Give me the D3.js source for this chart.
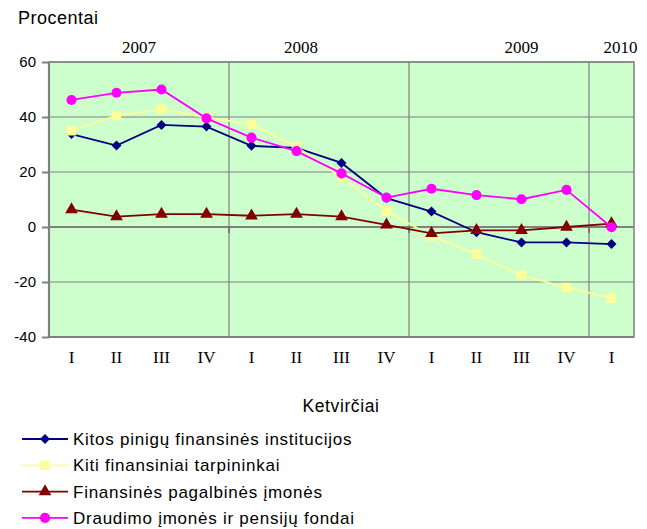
<!DOCTYPE html>
<html><head><meta charset="utf-8">
<script src="https://cdn.jsdelivr.net/npm/d3@7"></script>
<style>body{margin:0;background:#fff}</style>
</head><body>
<svg id="c" width="647" height="529"></svg>
<script>
const quarters = ["I","II","III","IV","I","II","III","IV","I","II","III","IV","I"];
const years = [{label:"2007", from:0, to:4, pos:1.5},{label:"2008", from:4, to:8, pos:5.1},{label:"2009", from:8, to:12, pos:10},{label:"2010", from:12, to:13, pos:12.2}];
const yTicks = [-40,-20,0,20,40,60];
const kitosPinigu = [33.8,29.6,37.1,36.5,29.5,28.8,23.3,10.5,5.6,-1.9,-5.6,-5.6,-6.2];
const kitiFinansiniai = [35,40.5,42.8,39.9,37.3,29.2,18,5.8,-3.3,-9.9,-17.6,-22,-25.9];
const pagalbines = [6.3,3.8,4.7,4.7,4.1,4.7,3.8,0.8,-2.3,-1.2,-1.2,0,1.2];
const draudimo = [46.2,48.8,50,39.5,32.5,27.6,19.5,10.7,13.9,11.6,10.1,13.5,-0.1];
const seriesNames = ["Kitos pinigų finansinės institucijos","Kiti finansiniai tarpininkai","Finansinės pagalbinės įmonės","Draudimo įmonės ir pensijų fondai"];

const series = [
  {name:seriesNames[0], values:kitosPinigu, color:"#000080", sym:d3.symbolSquare, size:50, rot:45},
  {name:seriesNames[1], values:kitiFinansiniai, color:"#FFFF99", sym:d3.symbolSquare, size:90, rot:0},
  {name:seriesNames[2], values:pagalbines, color:"#800000", sym:d3.symbolTriangle, size:70, rot:0},
  {name:seriesNames[3], values:draudimo, color:"#FF00FF", sym:d3.symbolCircle, size:80, rot:0}
];

const SANS = "Arial, 'Liberation Sans', sans-serif";
const SERIF = "'Times New Roman','Liberation Serif',serif";
const svg = d3.select("#c");
const L=49, R=634, T=62, B=337;
const x = d3.scaleBand().domain(d3.range(quarters.length)).range([L,R]);
const y = d3.scaleLinear().domain([-40,60]).range([B,T]);

svg.append("rect").attr("x",L).attr("y",T).attr("width",R-L).attr("height",B-T).attr("fill","#CCFFCC");

svg.append("g").selectAll("line").data(yTicks).join("line")
  .attr("x1",L).attr("x2",R).attr("y1",d=>y(d)).attr("y2",d=>y(d))
  .attr("stroke","#808080").attr("stroke-width",d=>d===0?2:1.2);
svg.append("g").selectAll("line").data(years.slice(1)).join("line")
  .attr("x1",d=>x(d.from)).attr("x2",d=>x(d.from)).attr("y1",T).attr("y2",B)
  .attr("stroke","#808080").attr("stroke-width",1.2);
svg.append("g").selectAll("line").data(years.slice(1)).join("line")
  .attr("x1",d=>x(d.from)).attr("x2",d=>x(d.from)).attr("y1",y(0)).attr("y2",y(0)+6)
  .attr("stroke","#666").attr("stroke-width",1.5);
svg.append("rect").attr("x",L).attr("y",T).attr("width",R-L).attr("height",B-T)
  .attr("fill","none").attr("stroke","#808080").attr("stroke-width",1.5);
svg.append("line").attr("x1",L).attr("x2",L).attr("y1",T).attr("y2",B).attr("stroke","#808080").attr("stroke-width",2.2);
svg.append("line").attr("x1",L).attr("x2",R).attr("y1",B).attr("y2",B).attr("stroke","#808080").attr("stroke-width",2.2);

const yAxis = d3.axisLeft(y).tickValues(yTicks).tickFormat(d=>String(d)).tickSize(7).tickPadding(6);
const gy = svg.append("g").attr("transform",`translate(${L},0)`).call(yAxis);
gy.select(".domain").remove();
gy.selectAll(".tick line").attr("stroke","#808080").attr("stroke-width",2);
gy.selectAll("text").attr("font-family",SANS).attr("font-size",15).attr("fill","#000");

const xAxis = d3.axisBottom(x).tickFormat(i=>quarters[i]).tickSize(0).tickPadding(14);
const gx = svg.append("g").attr("transform",`translate(0,${B})`).call(xAxis);
gx.select(".domain").remove();
gx.selectAll("text").attr("font-family",SERIF).attr("font-size",17).attr("fill","#000");

svg.append("g").selectAll("text").data(years).join("text")
  .attr("x",d=>x(0)+d.pos*x.step()+x.bandwidth()/2).attr("y",53).attr("text-anchor","middle")
  .attr("font-family",SERIF).attr("font-size",17).text(d=>d.label);

svg.append("text").attr("x",18).attr("y",24).attr("font-family",SANS).attr("font-size",18).attr("letter-spacing",0.5).text("Procentai");
svg.append("text").attr("x",341).attr("y",412).attr("text-anchor","middle").attr("font-family",SANS).attr("font-size",17.5).attr("letter-spacing",0.6).text("Ketvirčiai");

const line = d3.line().x((d,i)=>x(i)+x.bandwidth()/2).y(d=>y(d));
series.forEach(s=>{
  svg.append("path").attr("d",line(s.values)).attr("fill","none").attr("stroke",s.color).attr("stroke-width",1.8);
  svg.append("g").selectAll("path").data(s.values).join("path")
    .attr("transform",(d,i)=>`translate(${x(i)+x.bandwidth()/2},${y(d)}) rotate(${s.rot})`)
    .attr("d",d3.symbol().type(s.sym).size(s.size)).attr("fill",s.color);
});

const lg = svg.append("g");
series.forEach((s,i)=>{
  const yy = 439 + i*26.3;
  lg.append("line").attr("x1",22).attr("x2",68).attr("y1",yy).attr("y2",yy).attr("stroke",s.color).attr("stroke-width",1.8);
  lg.append("path").attr("transform",`translate(45,${yy}) rotate(${s.rot})`).attr("d",d3.symbol().type(s.sym).size(s.size)).attr("fill",s.color);
  lg.append("text").attr("x",73).attr("y",yy+6).attr("font-family",SANS).attr("font-size",17).attr("letter-spacing",0.75).text(s.name);
});
</script>
</body></html>
